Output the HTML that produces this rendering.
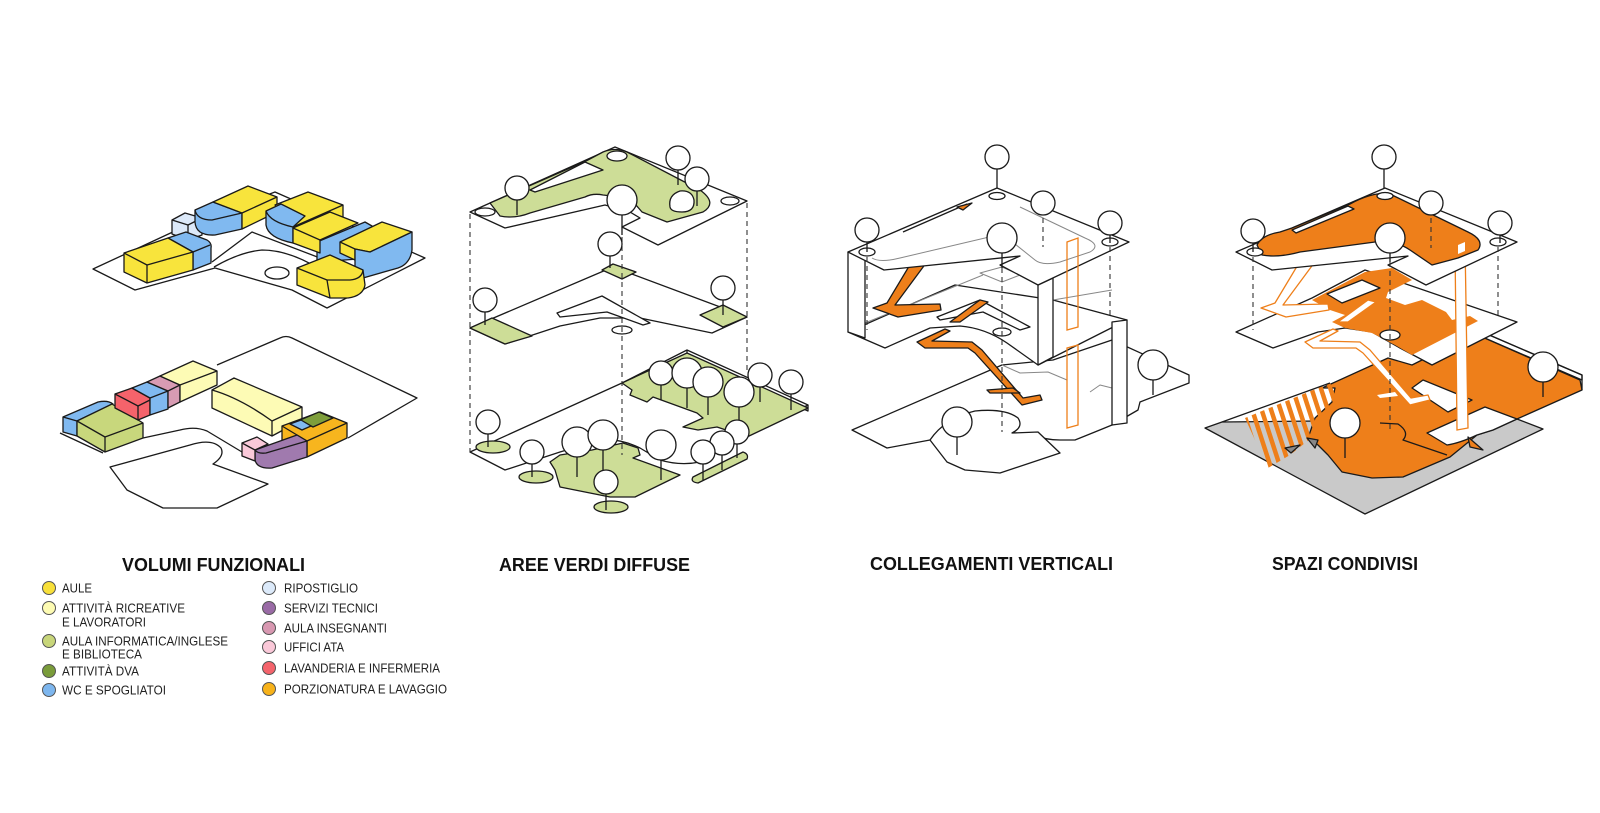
<!DOCTYPE html>
<html><head><meta charset="utf-8"><style>
html,body{margin:0;padding:0;background:#fff;width:1600px;height:813px;overflow:hidden}
svg{display:block}
</style></head><body>
<svg width="1600" height="813" viewBox="0 0 1600 813" xmlns="http://www.w3.org/2000/svg">
<defs>
<pattern id="hatch" patternUnits="userSpaceOnUse" width="9" height="9" patternTransform="rotate(-18)"><rect width="4.5" height="9" fill="#EE7F1A"/></pattern>
</defs>
<rect width="1600" height="813" fill="#fff"/>

<!-- ============ PANEL 1 TOP ============ -->
<g stroke="#1a1a1a" stroke-width="1.3" stroke-linejoin="round" fill="none">
<polygon fill="#fff" points="93,269 190,224 275,192 425,258 327,308 292,290 215,268 135,290"/>
<path d="M212,262 L252,232 L320,258"/>
<path d="M214,267 Q240,252 262,250 Q288,250 318,268"/>
<ellipse cx="277" cy="273" rx="12" ry="6" fill="#fff"/>
<!-- ripostiglio -->
<polygon fill="#DCE9F9" points="172,220 185,213 202,218 202,235 188,240 172,234"/>
<polyline points="172,220 188,225 202,218"/><line x1="188" y1="225" x2="188" y2="240"/>
<!-- upper blue/yellow -->
<path fill="#80B9F0" d="M195,210 L213,202 L242,213 L242,229 L215,235 Q196,236 195,222 Z"/>
<path d="M195,210 Q197,220 212,220 L242,213"/>
<polygon fill="#F8E43C" points="213,202 248,186 277,197 277,212 242,229 242,213"/>
<polyline points="242,213 277,197"/>
<!-- left blue -->
<path fill="#80B9F0" d="M168,238 L186,232 L207,240 Q212,243 211,248 L211,263 L193,270 L193,252 Z"/>
<line x1="193" y1="252" x2="210" y2="245"/>
<!-- left yellow -->
<polygon fill="#F8E43C" points="124,253 168,238 193,252 193,270 147,283 124,272"/>
<polyline points="124,253 147,265 193,252"/><line x1="147" y1="265" x2="147" y2="283"/>
<!-- R1 -->
<polygon fill="#F8E43C" points="275,205 308,192 343,205 343,218 293,243 293,227"/>
<line x1="293" y1="227" x2="343" y2="205"/>
<path fill="#80B9F0" d="M266,211 L281,204 L305,216 L293,227 L293,243 Q268,238 266,225 Z"/>
<path d="M266,211 Q270,222 293,227"/>
<!-- R3 blue -->
<polygon fill="#80B9F0" points="317,242 365,222 372,226 372,258 317,262"/>
<!-- R2 -->
<polygon fill="#F8E43C" points="293,228 330,212 358,223 320,240 320,253 293,243"/>
<line x1="293" y1="228" x2="320" y2="240"/>
<!-- R4 -->
<polygon fill="#F8E43C" points="340,242 382,222 412,232 370,252 355,249 355,260 340,253"/>
<line x1="340" y1="242" x2="355" y2="249"/>
<path fill="#80B9F0" d="M355,249 L370,252 L412,232 L412,250 Q410,264 398,268 L363,278 L355,274 Z"/>
<!-- R5 -->
<path fill="#F8E43C" d="M297,268 L330,255 L363,270 L365,285 Q363,296 348,298 L330,298 L297,285 Z"/>
<path d="M297,268 L327,280 L350,280 Q362,279 363,270"/>
<line x1="327" y1="280" x2="330" y2="298"/>
</g>

<!-- ============ PANEL 1 BOTTOM ============ -->
<g stroke="#1a1a1a" stroke-width="1.3" stroke-linejoin="round" fill="none">
<path d="M217,365 L280,338 Q286,335 292,338 L417,398 L348,438"/>
<path d="M60,433 L103,453"/>
<path d="M143,438 L180,430 Q195,426 207,431 L242,452"/>
<path fill="#fff" d="M110,467 L127,490 L163,508 L217,508 L268,484 L213,464 Q225,456 221,448 Q212,438 190,445 Z"/>
<path fill="#80B9F0" d="M63,417 L98,402 Q108,400 113,404 L77,421 L77,436 L63,432 Z"/>
<line x1="63" y1="417" x2="77" y2="421"/>
<polygon fill="#C8D77C" points="77,421 112,404 143,423 143,438 105,452 77,436"/>
<polyline points="77,421 105,437 143,423"/><line x1="105" y1="437" x2="105" y2="452"/>
<polygon fill="#F5636B" points="115,394 132,388 150,398 150,415 138,420 115,408"/>
<polyline points="115,394 138,406 150,400"/><line x1="138" y1="406" x2="138" y2="420"/>
<polygon fill="#80B9F0" points="132,388 147,382 168,391 168,409 150,415 150,398"/>
<line x1="150" y1="398" x2="168" y2="391"/>
<polygon fill="#D89BB3" points="147,382 160,376 180,385 180,402 168,408 168,391"/>
<line x1="168" y1="391" x2="180" y2="385"/>
<polygon fill="#FDFBB5" points="160,376 193,361 217,371 217,385 180,402 180,385"/>
<line x1="180" y1="385" x2="217" y2="371"/>
<polygon fill="#FDFBB5" points="212,390 234,378 302,407 302,420 272,436 212,408"/>
<path d="M212,390 Q240,398 272,421 L302,407"/><line x1="272" y1="421" x2="272" y2="436"/>
<polygon fill="#F7B51E" points="282,426 320,412 347,423 347,438 307,457 282,445"/>
<polyline points="282,426 307,441 347,423"/><line x1="307" y1="441" x2="307" y2="457"/>
<polygon fill="#7E9E3B" points="300,420 319,412 333,418 313,427"/>
<polygon fill="#80B9F0" points="290,424 301,420 311,426 302,430"/>
<path fill="#A07AAE" d="M255,450 L297,435 L307,441 L307,457 L272,468 Q257,469 255,460 Z"/>
<path d="M255,450 Q258,454 266,453 L307,441"/>
<polygon fill="#FAC9D9" points="242,443 257,437 268,444 255,450 255,461 242,456"/>
<line x1="242" y1="443" x2="255" y2="450"/>
</g>

<!-- ============ PANEL 2 ============ -->
<g stroke="#1a1a1a" stroke-width="1.3" stroke-linejoin="round" fill="none">
<path fill="#fff" d="M470,452 L622,383 L687,350 L808,405 L745,437 Q720,448 700,462 Q680,466 660,460 L640,448 Q620,438 600,440 L560,452 L505,470 Z"/>
<path d="M687,350 L687,356 L808,411 L808,405"/>
<polygon fill="#CDDD97" points="622,383 650,370 687,353 718,367 808,408 747,437 717,427 698,430 683,427 703,418 697,413 653,397 647,402 630,395 632,390"/>
<polygon fill="#CDDD97" points="550,462 560,455 592,450 623,443 638,448 640,455 633,458 680,475 635,497 610,497 560,487 555,470"/>
<path fill="#CDDD97" d="M693,477 L743,452 Q749,454 747,459 L698,483 Q690,482 693,477 Z"/>
<ellipse cx="493" cy="447" rx="17" ry="6" fill="#CDDD97"/>
<ellipse cx="536" cy="477" rx="17" ry="6" fill="#CDDD97"/>
<ellipse cx="611" cy="507" rx="17" ry="6" fill="#CDDD97"/>
<polygon fill="#fff" points="470,328 613,267 747,317 712,333 640,318 600,318 560,326 505,344"/>
<polygon fill="#CDDD97" points="470,328 492,318 532,336 505,344"/>
<polygon fill="#CDDD97" points="602,270 613,264 636,272 622,279"/>
<polygon fill="#CDDD97" points="700,315 723,305 747,317 723,327"/>
<polygon fill="#fff" points="557,313 602,296 650,323 643,325 607,312 560,317"/>
<ellipse cx="622" cy="330" rx="10" ry="4" fill="#fff"/>
<polygon fill="#fff" points="470,212 615,147 747,201 658,245 622,227 640,218 630,212 605,205 505,228"/>
<path fill="#CDDD97" d="M490,203 L586,161 L603,152 Q615,147 627,152 L700,190 Q718,203 703,212 L667,222 L642,212 L630,198 L603,195 Q593,193 585,197 L530,213 Q515,219 500,216 Z"/>
<polygon fill="#fff" points="530,190 585,162 603,170 535,192"/>
<path fill="#fff" d="M670,207 Q668,195 680,191 Q692,190 694,200 Q695,212 682,212 Q671,212 670,207 Z"/>
<ellipse cx="485" cy="212" rx="10" ry="4" fill="#fff"/>
<ellipse cx="617" cy="156" rx="10" ry="5" fill="#fff"/>
<ellipse cx="730" cy="201" rx="9" ry="4" fill="#fff"/>
</g>
<g stroke="#333" stroke-width="1.1" stroke-dasharray="5,4" fill="none">
<line x1="470" y1="214" x2="470" y2="452"/>
<line x1="622" y1="237" x2="622" y2="455"/>
<line x1="747" y1="203" x2="747" y2="373"/>
</g>
<g stroke="#1a1a1a" stroke-width="1.3" fill="#fff">
<line x1="517" y1="200" x2="517" y2="215"/><circle cx="517" cy="188" r="12"/>
<line x1="678" y1="170" x2="678" y2="185"/><circle cx="678" cy="158" r="12"/>
<line x1="697" y1="191" x2="697" y2="206"/><circle cx="697" cy="179" r="12"/>
<line x1="622" y1="215" x2="622" y2="235"/><circle cx="622" cy="200" r="15"/>
<line x1="610" y1="256" x2="610" y2="268"/><circle cx="610" cy="244" r="12"/>
<line x1="485" y1="312" x2="485" y2="325"/><circle cx="485" cy="300" r="12"/>
<line x1="723" y1="300" x2="723" y2="315"/><circle cx="723" cy="288" r="12"/>
<line x1="661" y1="385" x2="661" y2="400"/><circle cx="661" cy="373" r="12"/>
<line x1="687" y1="388" x2="687" y2="408"/><circle cx="687" cy="373" r="15"/>
<line x1="708" y1="397" x2="708" y2="415"/><circle cx="708" cy="382" r="15"/>
<line x1="760" y1="387" x2="760" y2="402"/><circle cx="760" cy="375" r="12"/>
<line x1="791" y1="394" x2="791" y2="410"/><circle cx="791" cy="382" r="12"/>
<line x1="739" y1="407" x2="739" y2="425"/><circle cx="739" cy="392" r="15"/>
<line x1="488" y1="434" x2="488" y2="447"/><circle cx="488" cy="422" r="12"/>
<line x1="737" y1="444" x2="737" y2="458"/><circle cx="737" cy="432" r="12"/>
<line x1="722" y1="455" x2="722" y2="470"/><circle cx="722" cy="443" r="12"/>
<line x1="577" y1="457" x2="577" y2="477"/><circle cx="577" cy="442" r="15"/>
<line x1="603" y1="450" x2="603" y2="483"/><circle cx="603" cy="435" r="15"/>
<line x1="661" y1="460" x2="661" y2="480"/><circle cx="661" cy="445" r="15"/>
<line x1="532" y1="464" x2="532" y2="477"/><circle cx="532" cy="452" r="12"/>
<line x1="703" y1="464" x2="703" y2="480"/><circle cx="703" cy="452" r="12"/>
<line x1="606" y1="494" x2="606" y2="510"/><circle cx="606" cy="482" r="12"/>
</g>

<!-- ============ PANEL 3 ============ -->
<g stroke="#1a1a1a" stroke-width="1.3" stroke-linejoin="round" fill="none">
<path fill="#fff" d="M852,430 L1002,365 L1053,360 L1112,340 L1189,375 L1189,383 L1140,402 L1138,410 L1112,425 Q1095,432 1075,440 L1060,440 Q1045,440 1035,435 L1012,433 L930,440 L887,448 Z"/>
<path fill="#fff" d="M930,440 Q945,418 975,411 Q1005,408 1018,418 Q1024,427 1012,433 L1038,432 L1060,453 L1000,473 L965,470 L947,462 Z"/>
<path stroke="#888" stroke-width="1" d="M1002,365 L1020,373 L1048,372 L1067,380 M1090,392 L1100,385 L1112,388"/>
<path fill="#fff" d="M848,332 L955,285 L1053,300 L1127,320 L1038,365 L1007,343 Q985,328 960,326 L930,328 L885,348 Z"/>
<polygon fill="#fff" points="937,317 980,300 1030,327 1020,330 983,312 940,320"/>
<ellipse cx="1002" cy="332" rx="9" ry="4" fill="#fff"/>
<path stroke="#888" stroke-width="1" d="M865,323 L983,275 M980,273 L1002,267 L1020,275 L1002,282 Z M1053,300 L1112,290"/>
<polygon fill="#fff" points="848,252 865,258 865,338 848,332"/>
<polygon fill="#fff" points="1038,285 1053,278 1053,357 1038,365"/>
<polygon fill="#fff" points="1112,322 1127,320 1127,423 1112,425"/>
<polygon fill="#EE7F1A" points="917,253 932,255 895,305 940,304 941,310 898,317 873,308 887,303"/>
<polygon fill="#EE7F1A" points="950,322 980,300 988,302 960,322"/>
<polygon fill="#EE7F1A" points="917,342 945,329 950,331 932,341 972,342 982,350 1023,398 1040,395 1042,400 1022,405 975,353 968,348 925,348"/>
<polygon fill="#EE7F1A" points="987,390 1013,388 1020,393 990,393"/>
<polygon fill="#fff" points="848,252 997,188 1129,242 1038,285 1000,265 1020,256 884,270"/>
<path stroke="#888" stroke-width="1" d="M872,258 Q880,263 900,258 L985,238 Q1000,233 1010,240 L1035,260 Q1042,266 1060,262 L1090,252 Q1102,245 1085,238 L1020,207"/>
<path d="M903,232 L967,204"/>
<polygon fill="#EE7F1A" points="957,207 972,203 963,210"/>
<ellipse cx="997" cy="196" rx="8" ry="3.5" fill="#fff"/>
<ellipse cx="867" cy="252" rx="8" ry="4" fill="#fff"/>
<ellipse cx="1110" cy="242" rx="8" ry="4" fill="#fff"/>
</g>
<g stroke="#EE7F1A" stroke-width="1.3" fill="none">
<polygon points="1067,242 1078,238 1078,327 1067,330"/>
<polygon points="1067,348 1078,345 1078,425 1067,428"/>
</g>
<g stroke="#333" stroke-width="1.1" stroke-dasharray="5,4" fill="none">
<line x1="867" y1="257" x2="867" y2="330"/>
<line x1="1002" y1="268" x2="1002" y2="432"/>
<line x1="1110" y1="247" x2="1110" y2="318"/>
<line x1="1043" y1="218" x2="1043" y2="247"/>
</g>
<g stroke="#1a1a1a" stroke-width="1.3" fill="#fff">
<line x1="997" y1="169" x2="997" y2="188"/><circle cx="997" cy="157" r="12"/>
<circle cx="1043" cy="203" r="12"/>
<line x1="867" y1="242" x2="867" y2="252"/><circle cx="867" cy="230" r="12"/>
<line x1="1002" y1="253" x2="1002" y2="268"/><circle cx="1002" cy="238" r="15"/>
<line x1="1110" y1="235" x2="1110" y2="243"/><circle cx="1110" cy="223" r="12"/>
<line x1="1153" y1="380" x2="1153" y2="395"/><circle cx="1153" cy="365" r="15"/>
<line x1="957" y1="437" x2="957" y2="455"/><circle cx="957" cy="422" r="15"/>
</g>

<!-- ============ PANEL 4 ============ -->
<g stroke="#1a1a1a" stroke-width="1.3" stroke-linejoin="round" fill="none">
<polygon fill="#C9C9C9" points="1205,428 1222,422 1517,419 1543,429 1365,514"/>
<polygon fill="#fff" points="1480,331 1582,375 1582,380 1480,336"/>
<polygon fill="#EE7F1A" points="1322,388 1388,358 1412,365 1458,342 1480,336 1580,380 1582,390 1517,419 1493,430 1477,435 1450,457 1403,477 1372,478 1342,472 1328,455 1318,445 1308,438 1315,418 1332,402 1335,388"/>
<path d="M1480,331 L1582,375 L1582,390"/>
<polygon fill="url(#hatch)" stroke="none" points="1245,418 1330,383 1336,395 1315,435 1290,455 1268,468 1255,440"/>
<line x1="1222" y1="422" x2="1330" y2="383"/>
<path d="M1380,423 L1398,424 Q1410,432 1403,440 L1447,455"/>
<polygon fill="#fff" points="1412,388 1423,380 1472,400 1448,412"/>
<path fill="#fff" d="M1427,433 L1485,407 L1517,419 L1493,430 L1477,435 Q1460,443 1447,445 Z"/>
<polygon fill="#fff" stroke="none" points="1377,395 1395,392 1398,396 1380,398"/>
<polygon fill="#888" points="1285,448 1300,445 1291,453"/>
<polygon fill="#888" points="1307,438 1315,448 1318,440"/>
<polygon fill="#EE7F1A" points="1468,437 1483,450 1470,447"/>
<polygon fill="#fff" points="1236,332 1312,298 1365,270 1517,322 1432,365 1400,348 1372,332 1345,328 1318,332 1273,348"/>
<polygon fill="#EE7F1A" stroke="none" points="1312,300 1365,272 1392,268 1412,280 1388,292 1386,298 1405,305 1422,300 1446,312 1452,320 1470,316 1478,321 1412,355 1395,345 1372,333 1345,328 1332,322 1345,315 1330,310"/>
<polygon fill="#fff" points="1327,294 1362,280 1380,288 1342,303"/>
<ellipse cx="1390" cy="335" rx="10" ry="5" fill="#fff"/>
</g>
<polygon fill="#fff" stroke="#EE7F1A" stroke-width="1.3" points="1455,245 1465,242 1468,428 1457,430"/>
<g fill="#fff" stroke="#EE7F1A" stroke-width="1.3" stroke-linejoin="round">
<polygon points="1305,253 1320,255 1283,305 1328,304 1329,310 1286,317 1261,308 1275,303"/>
<polygon points="1338,322 1368,300 1376,302 1348,322"/>
<polygon points="1305,342 1333,329 1338,331 1320,341 1360,342 1370,350 1411,398 1428,395 1430,400 1410,405 1363,353 1356,348 1313,348"/>
</g>
<g stroke="#1a1a1a" stroke-width="1.3" stroke-linejoin="round" fill="none">
<polygon fill="#fff" points="1236,252 1385,188 1517,242 1426,285 1388,265 1408,256 1272,270"/>
<path fill="#EE7F1A" d="M1257,245 Q1262,235 1280,232 L1292,228 L1350,204 Q1370,193 1388,193 L1468,232 Q1485,240 1478,250 L1458,258 L1432,265 L1410,250 Q1395,240 1375,242 L1300,252 Q1278,258 1262,255 Z"/>
<polygon fill="#fff" points="1292,230 1348,206 1354,209 1296,233"/>
<polygon fill="#fff" stroke="none" points="1458,245 1465,242 1465,251 1458,254"/>
<ellipse cx="1385" cy="196" rx="8" ry="3.5" fill="#fff"/>
<ellipse cx="1255" cy="252" rx="8" ry="4" fill="#fff"/>
<ellipse cx="1498" cy="242" rx="8" ry="4" fill="#fff"/>
</g>
<g stroke="#333" stroke-width="1.1" stroke-dasharray="5,4" fill="none">
<line x1="1253" y1="257" x2="1253" y2="330"/>
<line x1="1390" y1="262" x2="1390" y2="432"/>
<line x1="1498" y1="247" x2="1498" y2="318"/>
<line x1="1431" y1="218" x2="1431" y2="248"/>
</g>
<g stroke="#1a1a1a" stroke-width="1.3" fill="#fff">
<line x1="1384" y1="169" x2="1384" y2="188"/><circle cx="1384" cy="157" r="12"/>
<circle cx="1431" cy="203" r="12"/>
<line x1="1253" y1="243" x2="1253" y2="252"/><circle cx="1253" cy="231" r="12"/>
<line x1="1390" y1="253" x2="1390" y2="262"/><circle cx="1390" cy="238" r="15"/>
<line x1="1500" y1="235" x2="1500" y2="243"/><circle cx="1500" cy="223" r="12"/>
<line x1="1543" y1="382" x2="1543" y2="397"/><circle cx="1543" cy="367" r="15"/>
<line x1="1345" y1="438" x2="1345" y2="458"/><circle cx="1345" cy="423" r="15"/>
</g>

<!-- ============ TITLES ============ -->
<g font-family="'Liberation Sans', Arial, sans-serif" font-weight="bold" font-size="18" fill="#111">
<text x="122" y="571" textLength="183" lengthAdjust="spacingAndGlyphs">VOLUMI FUNZIONALI</text>
<text x="499" y="571" textLength="191" lengthAdjust="spacingAndGlyphs">AREE VERDI DIFFUSE</text>
<text x="870" y="570" textLength="243" lengthAdjust="spacingAndGlyphs">COLLEGAMENTI VERTICALI</text>
<text x="1272" y="570" textLength="146" lengthAdjust="spacingAndGlyphs">SPAZI CONDIVISI</text>
</g>

<!-- ============ LEGEND ============ -->
<g stroke="#555" stroke-width="1">
<circle cx="49" cy="588" r="6.5" fill="#F8E03A"/>
<circle cx="49" cy="608" r="6.5" fill="#FDFBB2"/>
<circle cx="49" cy="641" r="6.5" fill="#C8D67A"/>
<circle cx="49" cy="671" r="6.5" fill="#7A9C3A"/>
<circle cx="49" cy="690" r="6.5" fill="#7DB6EE"/>
<circle cx="269" cy="588" r="6.5" fill="#DCEAFA"/>
<circle cx="269" cy="608" r="6.5" fill="#9A6BA6"/>
<circle cx="269" cy="628" r="6.5" fill="#D898B1"/>
<circle cx="269" cy="647" r="6.5" fill="#FAC8D8"/>
<circle cx="269" cy="668" r="6.5" fill="#F4646C"/>
<circle cx="269" cy="689" r="6.5" fill="#F7B21A"/>
</g>
<g font-family="'Liberation Sans', Arial, sans-serif" font-size="13" fill="#222">
<text x="62" y="592.5" textLength="30" lengthAdjust="spacingAndGlyphs">AULE</text>
<text x="62" y="612.5" textLength="123" lengthAdjust="spacingAndGlyphs">ATTIVITÀ RICREATIVE</text>
<text x="62" y="626.5" textLength="84" lengthAdjust="spacingAndGlyphs">E LAVORATORI</text>
<text x="62" y="645.5" textLength="166" lengthAdjust="spacingAndGlyphs">AULA INFORMATICA/INGLESE</text>
<text x="62" y="658.5" textLength="80" lengthAdjust="spacingAndGlyphs">E BIBLIOTECA</text>
<text x="62" y="675.5" textLength="77" lengthAdjust="spacingAndGlyphs">ATTIVITÀ DVA</text>
<text x="62" y="694.5" textLength="104" lengthAdjust="spacingAndGlyphs">WC E SPOGLIATOI</text>
<text x="284" y="592.5" textLength="74" lengthAdjust="spacingAndGlyphs">RIPOSTIGLIO</text>
<text x="284" y="612.5" textLength="94" lengthAdjust="spacingAndGlyphs">SERVIZI TECNICI</text>
<text x="284" y="632.5" textLength="103" lengthAdjust="spacingAndGlyphs">AULA INSEGNANTI</text>
<text x="284" y="651.5" textLength="60" lengthAdjust="spacingAndGlyphs">UFFICI ATA</text>
<text x="284" y="672.5" textLength="156" lengthAdjust="spacingAndGlyphs">LAVANDERIA E INFERMERIA</text>
<text x="284" y="693.5" textLength="163" lengthAdjust="spacingAndGlyphs">PORZIONATURA E LAVAGGIO</text>
</g>
</svg>
</body></html>
